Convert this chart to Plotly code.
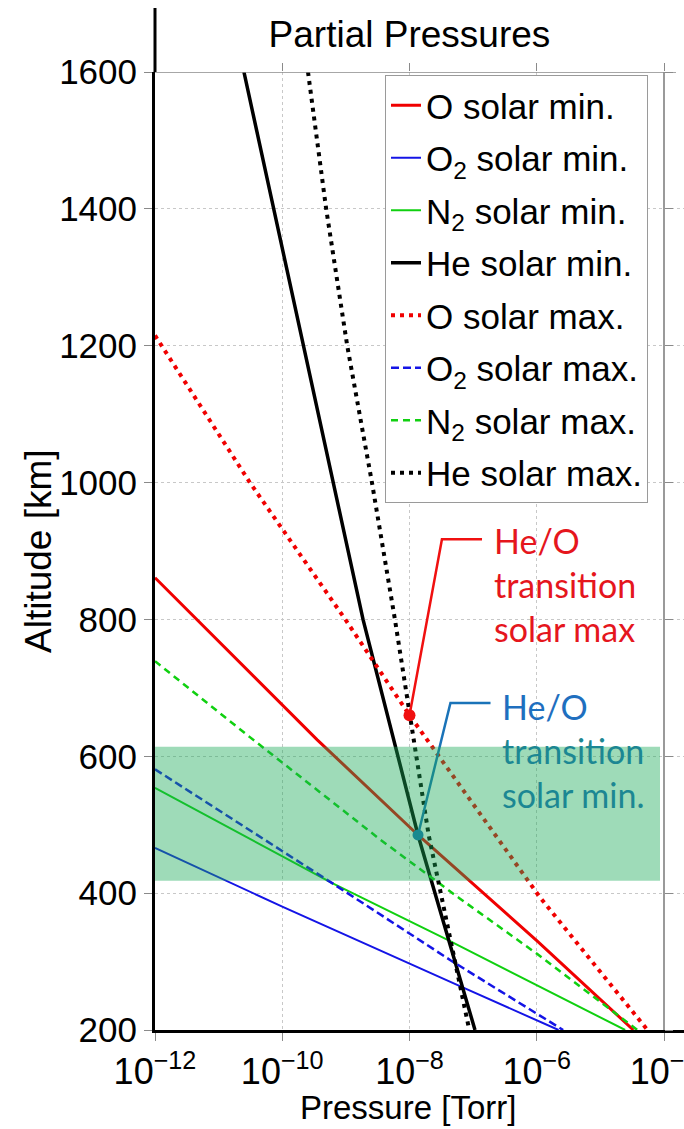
import plotly.graph_objects as go

# Partial pressure profiles: altitude (km) vs. pressure (Torr)
o_min_alt = [861, 624, 485, 330, 200]
o_min_p = [1.0e-12, 3.55e-10, 1.36e-8, 1.02e-6, 3.3e-5]

o2_min_alt = [466, 380, 266, 200]
o2_min_p = [1.0e-12, 1.02e-10, 5.6e-8, 2.2e-6]

n2_min_alt = [554, 415, 332, 200]
n2_min_p = [1.0e-12, 6.0e-10, 3.9e-8, 2.45e-5]

he_min_alt = [1600, 1400, 1200, 1000, 800, 485, 200]
he_min_p = [2.5e-11, 7.4e-11, 2.16e-10, 6.3e-10, 1.86e-9, 1.36e-8, 1.07e-7]

o_max_alt = [1215, 1000, 800, 660, 394, 200]
o_max_p = [1.0e-12, 3.1e-11, 9.8e-10, 1.0e-8, 1.12e-6, 5.5e-5]

o2_max_alt = [581, 415, 302, 200]
o2_max_p = [1.0e-12, 6.0e-10, 4.4e-8, 2.6e-6]

n2_max_alt = [739, 628, 478, 393, 311, 200]
n2_max_p = [1.0e-12, 3.1e-11, 3.5e-9, 6.0e-8, 1.02e-6, 3.8e-5]

he_max_alt = [1600, 1400, 1200, 1000, 800, 660, 485, 200]
he_max_p = [2.54e-10, 4.9e-10, 1.05e-9, 2.57e-9, 5.9e-9, 1.0e-8, 2.0e-8, 8.7e-8]

# He/O crossover points (pressure, altitude)
transition_max_p, transition_max_alt = 1.0e-8, 660
transition_min_p, transition_min_alt = 1.36e-8, 485

# Highlighted altitude band (km)
band_low, band_high = 418, 614

alt_ticks = [200, 400, 600, 800, 1000, 1200, 1400, 1600]
p_ticks = [1e-12, 1e-10, 1e-8, 1e-6, 1e-4]
p_tick_text = ["10<sup>−12</sup>", "10<sup>−10</sup>", "10<sup>−8</sup>",
               "10<sup>−6</sup>", "10<sup>−4</sup>"]

RED = "#f00000"
BLUE = "#1414e6"
GREEN = "#10d010"
BLACK = "#000000"
LEAD_RED = "#f01010"
LEAD_BLUE = "#1a73b8"
FONT = "Liberation Sans, Arial, sans-serif"

series = [
    ("O solar min.", o_min_p, o_min_alt, RED, 3, "solid"),
    ("O<sub>2</sub> solar min.", o2_min_p, o2_min_alt, BLUE, 2, "solid"),
    ("N<sub>2</sub> solar min.", n2_min_p, n2_min_alt, GREEN, 2, "solid"),
    ("He solar min.", he_min_p, he_min_alt, BLACK, 3.5, "solid"),
    ("O solar max.", o_max_p, o_max_alt, RED, 4, "4px,5px"),
    ("O<sub>2</sub> solar max.", o2_max_p, o2_max_alt, BLUE, 2.5, "8px,4px"),
    ("N<sub>2</sub> solar max.", n2_max_p, n2_max_alt, GREEN, 2.5, "7px,5px"),
    ("He solar max.", he_max_p, he_max_alt, BLACK, 4, "4px,5px"),
]

fig = go.Figure()
for i, (name, p, alt, color, width, dash) in enumerate(series):
    fig.add_trace(go.Scatter(
        x=p, y=alt, mode="lines", name=name, legendgroup=f"g{i}",
        line=dict(color=color, width=width, dash=dash),
    ))


# Leader line from a crossover point up to its label (offsets in decades / km)
def leader(p, alt, rise, color):
    xs = [p, p * 10 ** 0.51, p * 10 ** 1.14]
    ys = [alt, alt + rise, alt + rise]
    return go.Scatter(x=xs, y=ys, mode="lines", line=dict(color=color, width=2.5),
                      showlegend=False, hoverinfo="skip")


fig.add_trace(leader(transition_max_p, transition_max_alt, 257, LEAD_RED))
fig.add_trace(leader(transition_min_p, transition_min_alt, 193, LEAD_BLUE))
fig.add_trace(go.Scatter(x=[transition_max_p], y=[transition_max_alt], mode="markers",
                         marker=dict(color=LEAD_RED, size=12), showlegend=False))
fig.add_trace(go.Scatter(x=[transition_min_p], y=[transition_min_alt], mode="markers",
                         marker=dict(color=LEAD_BLUE, size=11), showlegend=False))

# helper trace so the top / right frame axes are drawn
fig.add_trace(go.Scatter(x=[1e-8], y=[800], xaxis="x2", yaxis="y2", mode="markers",
                         marker=dict(opacity=0), showlegend=False, hoverinfo="skip"))

x_range = [-12, -3.6857]
y_range = [200, 1600]

fig.update_layout(
    width=684, height=1129,
    margin=dict(l=155, r=0, t=72, b=99, autoexpand=False),
    paper_bgcolor="white", plot_bgcolor="white",
    font=dict(family=FONT, color="black"),
    showlegend=True,
    title=dict(text="Partial Pressures", font=dict(size=37, family=FONT),
               x=0.481, xref="paper", xanchor="center",
               y=1 - 34 / 1129, yref="container", yanchor="middle"),
    xaxis=dict(type="log", range=x_range, tickmode="array", tickvals=p_ticks,
               ticktext=p_tick_text, tickfont=dict(size=36, family=FONT),
               ticklabeloverflow="allow", automargin=False,
               showline=True, linecolor="black", linewidth=3,
               ticks="outside", ticklen=8, tickcolor="#8a8a8a", tickwidth=1,
               showgrid=True, gridcolor="#c8c8c8", griddash="dot", gridwidth=1,
               zeroline=False),
    yaxis=dict(range=y_range, tickmode="array", tickvals=alt_ticks,
               tickfont=dict(size=35, family=FONT), automargin=False,
               showline=True, linecolor="black", linewidth=3,
               ticks="outside", ticklen=8, tickcolor="#8a8a8a", tickwidth=1,
               showgrid=True, gridcolor="#c8c8c8", griddash="dot", gridwidth=1,
               zeroline=False),
    xaxis2=dict(type="log", range=x_range, overlaying="x", side="top", anchor="y",
                tickmode="array", tickvals=p_ticks, showticklabels=False,
                automargin=False,
                ticks="outside", ticklen=8, tickcolor="#8a8a8a", tickwidth=1,
                showline=False, showgrid=False, zeroline=False),
    yaxis2=dict(range=y_range, overlaying="y", side="right", anchor="free",
                position=(664 - 155) / 529, tickmode="array", tickvals=alt_ticks,
                showticklabels=False, ticks="outside", ticklen=8, automargin=False,
                tickcolor="#8a8a8a", tickwidth=1, showline=True,
                linecolor="#9a9a9a", linewidth=1.5, showgrid=False, zeroline=False),
    legend=dict(x=(385 - 155) / 529, y=(1030 - 75) / 958, xanchor="left", yanchor="top",
                bgcolor="white", bordercolor="#9a9a9a", borderwidth=1,
                font=dict(size=35, family=FONT), traceorder="grouped",
                tracegroupgap=4),
)

shapes = [
    # top frame line at the upper altitude tick
    dict(type="line", xref="paper", yref="y", x0=0, x1=(676 - 155) / 529,
         y0=1600, y1=1600, line=dict(color="#8a8a8a", width=1.5), layer="above"),
    # left axis line continues above the frame
    dict(type="line", xref="paper", yref="paper", x0=0, x1=0, y0=1,
         y1=1 + 64 / 958, line=dict(color="black", width=3), layer="above"),
    # translucent altitude band
    dict(type="rect", xref="paper", yref="y", x0=0, x1=(660 - 155) / 529,
         y0=band_low, y1=band_high, fillcolor="rgba(24,169,86,0.42)",
         line=dict(width=0), layer="above"),
]
fig.update_layout(shapes=shapes)

ann_font = "Lato, Open Sans, sans-serif"
annotations = [
    dict(text="He/O<br>transition<br>solar max", xref="paper", yref="paper",
         x=(492 - 155) / 529, y=(1030 - 585) / 958, xanchor="left", yanchor="middle",
         align="left", showarrow=False,
         font=dict(family=ann_font, size=34, color="#e5161d")),
    dict(text=("<span style='color:#1f6fbf'>He/O</span><br>"
               "<span style='color:#1c8793'>transition</span><br>"
               "<span style='color:#1c8793'>solar min.</span>"),
         xref="paper", yref="paper",
         x=(500 - 155) / 529, y=(1030 - 750) / 958, xanchor="left", yanchor="middle",
         align="left", showarrow=False,
         font=dict(family=ann_font, size=34, color="#1f6fbf")),
    dict(text="Pressure [Torr]", xref="paper", yref="paper",
         x=(408 - 155) / 529, y=(1030 - 1107) / 958, xanchor="center", yanchor="middle",
         showarrow=False, font=dict(size=33, family=FONT)),
    dict(text="Altitude [km]", xref="paper", yref="paper",
         x=(38 - 155) / 529, y=0.5, xanchor="center", yanchor="middle",
         textangle=-90, showarrow=False, font=dict(size=37, family=FONT)),
]
fig.update_layout(annotations=annotations)

fig.write_html("out.html")
